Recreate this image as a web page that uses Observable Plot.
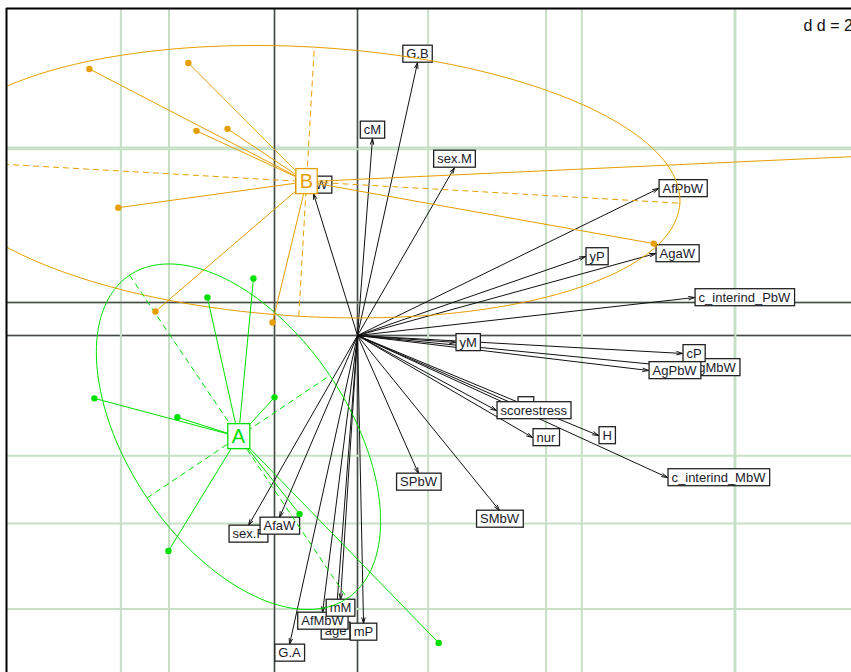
<!DOCTYPE html>
<html><head><meta charset="utf-8">
<script src="https://cdn.jsdelivr.net/npm/d3@7"></script>
<script src="https://cdn.jsdelivr.net/npm/@observablehq/plot@0.6"></script>
<style>body{margin:0;background:#fff} svg{display:block}</style>
</head><body><div id="chart"></div>
<script>
// ---------- Variable (arrow) plot, in its own units (grid d = 2) ----------
const varNames = ["G.B","cM","sex.M","SaW","AfPbW","yP","AgaW","c_interind_PbW","yM","AgMbW","cP","AgPbW","P","scorestress","nur","H","c_interind_MbW","SMbW","SPbW","sex.F","AfaW","G.A","age","AfMbW","mM","mP"];
const varX = [0.637,0.159,1.029,-0.467,3.194,2.419,3.162,3.576,1.040,3.480,3.448,3.088,1.698,1.475,1.857,2.557,3.289,1.507,0.647,-1.157,-0.828,-0.721,-0.233,-0.371,-0.180,0.064];
const varY = [2.904,2.096,1.787,1.511,1.564,0.840,0.872,0.404,-0.074,-0.340,-0.191,-0.372,-0.745,-0.798,-1.085,-1.064,-1.511,-1.862,-1.468,-2.021,-1.936,-3.287,-3.053,-2.947,-2.809,-3.064];
const arrowGridX = [-2, 0, 2, 4];
const arrowGridY = [-2, 0, 2];

// ---------- Class plot (groups A / B), in its own units (grid d = 2) ----------
const groups = ["A", "B"];
const groupColors = ["#00e000", "#e69f00"];
const pointGroup = ["B","B","B","B","B","B","B","B","B","A","A","A","A","A","A","A","A"];
const pointX = [-2.410,-1.121,-1.016,-0.612,-2.033,-1.550,-0.026,4.938,10.76,-0.873,-0.274,-2.345,-1.264,0.000,-1.381,0.326,2.137];
const pointY = [3.049,3.127,2.241,2.267,1.238,-0.117,-0.261,0.769,2.053,0.065,0.313,-1.251,-1.498,-1.238,-3.244,-2.762,-4.443];
const centerX = [-0.469, 0.417];
const centerY = [-1.752, 1.577];
const ellipseMajor = [2.541, 4.868];
const ellipseMinor = [1.433, 1.759];
const ellipseAngle = [-56.1, -3.3]; // degrees
const classGridX = [-2, 0, 2, 4, 6];
const classGridY = [-4, -2, 0, 2];
// placement of the class plot inside the arrow plot's frame
const classOffset = [-0.8806, 0.3511];
const classScale = 0.815;

const xDomain = [-3.724, 5.241];
const yDomain = [-3.585, 3.479];
const scaleLabel = "d d = 2";

// ---------- derived tables ----------
const cx = v => classOffset[0] + classScale * v;
const cy = v => classOffset[1] + classScale * v;
const side = (x, y) => (x > y && x > -y) ? "right" : (x > y && x <= -y) ? "down" : (x <= y && x <= -y) ? "left" : "up";
const vars = varNames.map((name, i) => ({name, x: varX[i], y: varY[i], side: side(varX[i], varY[i])}));
const colorOf = g => groupColors[groups.indexOf(g)];
const centers = groups.map((g, i) => ({g, x: cx(centerX[i]), y: cy(centerY[i]), color: groupColors[i]}));
const points = pointGroup.map((g, i) => {
  const c = centers[groups.indexOf(g)];
  return {g, x: cx(pointX[i]), y: cy(pointY[i]), x0: c.x, y0: c.y, color: colorOf(g)};
});
const ellPts = [], ellAxes = [];
groups.forEach((g, i) => {
  const a = ellipseMajor[i], b = ellipseMinor[i], th = ellipseAngle[i] * Math.PI / 180;
  const c0 = centerX[i], c1 = centerY[i];
  for (let k = 0; k <= 200; k++) {
    const t = 2 * Math.PI * k / 200;
    ellPts.push({g, color: groupColors[i],
      x: cx(c0 + a * Math.cos(t) * Math.cos(th) - b * Math.sin(t) * Math.sin(th)),
      y: cy(c1 + a * Math.cos(t) * Math.sin(th) + b * Math.sin(t) * Math.cos(th))});
  }
  ellAxes.push({color: groupColors[i], x1: cx(c0 - a*Math.cos(th)), y1: cy(c1 - a*Math.sin(th)), x2: cx(c0 + a*Math.cos(th)), y2: cy(c1 + a*Math.sin(th))});
  ellAxes.push({color: groupColors[i], x1: cx(c0 + b*Math.sin(th)), y1: cy(c1 - b*Math.cos(th)), x2: cx(c0 - b*Math.sin(th)), y2: cy(c1 + b*Math.cos(th))});
});

const gridColor = "#c6e0c6", axisColor = "#4a4a4a";
const lblStyle = {x: "x", y: "y", text: "name", fontSize: 13, fill: "#1a1a2a", ariaDescription: "varlabel"};

const chart = Plot.plot({
  width: 851, height: 672,
  marginLeft: 6, marginTop: 8, marginRight: 0, marginBottom: 0,
  x: {domain: xDomain, axis: null},
  y: {domain: yDomain, axis: null},
  style: {fontFamily: "'Liberation Sans', Arial, sans-serif", background: "white"},
  marks: [
    // arrow plot grid & axes
    Plot.ruleX(arrowGridX, {stroke: gridColor, strokeWidth: 2}),
    Plot.ruleY(arrowGridY, {stroke: gridColor, strokeWidth: 2}),
    Plot.ruleX([0], {stroke: axisColor, strokeWidth: 1.5}),
    Plot.ruleY([0], {stroke: axisColor, strokeWidth: 1.5}),
    // class plot grid & axes
    Plot.ruleX(classGridX.map(cx), {stroke: gridColor, strokeWidth: 2}),
    Plot.ruleY(classGridY.map(cy), {stroke: gridColor, strokeWidth: 2}),
    Plot.ruleX([cx(0)], {stroke: axisColor, strokeWidth: 1.5}),
    Plot.ruleY([cy(0)], {stroke: axisColor, strokeWidth: 1.5}),
    // arrows
    Plot.arrow(vars, {x1: d => 0, y1: d => 0, x2: "x", y2: "y", stroke: "#111", strokeWidth: 1, headLength: 9, headAngle: 32}),
    Plot.text(vars.filter(d => d.side === "right"), {...lblStyle, textAnchor: "start", dx: 4}),
    Plot.text(vars.filter(d => d.side === "left"), {...lblStyle, textAnchor: "end", dx: -4}),
    Plot.text(vars.filter(d => d.side === "up"), {...lblStyle, dy: -8.5}),
    Plot.text(vars.filter(d => d.side === "down"), {...lblStyle, dy: 8.5}),
    // class plot
    Plot.line(ellPts, {x: "x", y: "y", z: "g", stroke: "color", strokeWidth: 1, clip: true}),
    Plot.link(ellAxes, {x1: "x1", y1: "y1", x2: "x2", y2: "y2", stroke: "color", strokeWidth: 1, strokeDasharray: "6,4", clip: true}),
    Plot.link(points, {x1: "x", y1: "y", x2: "x0", y2: "y0", stroke: "color", strokeWidth: 1, clip: true}),
    Plot.dot(points, {x: "x", y: "y", r: 3.2, fill: "color", stroke: null, clip: true}),
    Plot.text(centers, {x: "x", y: "y", text: "g", fill: "color", fontSize: 20, ariaDescription: "classlabel"}),
    // frame (left / top visible)
    Plot.ruleX([xDomain[0]], {stroke: "#000", strokeWidth: 2}),
    Plot.ruleY([yDomain[1]], {stroke: "#000", strokeWidth: 2}),
    Plot.text([scaleLabel], {frameAnchor: "top-right", textAnchor: "start", dx: -48, dy: 11, fontSize: 16, fill: "#111"})
  ]
});

document.getElementById("chart").append(chart);

function boxify(desc, pad, h, strokeOf) {
  chart.querySelectorAll(`g[aria-description="${desc}"]`).forEach(g => {
    Array.from(g.querySelectorAll("text")).forEach(t => {
      const b = t.getBBox();
      const r = document.createElementNS("http://www.w3.org/2000/svg", "rect");
      const mid = b.y + b.height / 2;
      r.setAttribute("x", b.x - pad);
      r.setAttribute("y", mid - h / 2);
      r.setAttribute("width", b.width + 2 * pad);
      r.setAttribute("height", h);
      r.setAttribute("fill", "white");
      r.setAttribute("stroke", strokeOf(t, g));
      r.setAttribute("stroke-width", 1.3);
      const tr = t.getAttribute("transform");
      if (tr) r.setAttribute("transform", tr);
      t.parentNode.insertBefore(r, t);
    });
  });
}
boxify("varlabel", 3.5, 17, () => "#222");
boxify("classlabel", 4, 25, (t, g) => t.getAttribute("fill") || g.getAttribute("fill"));
</script>
</body></html>
